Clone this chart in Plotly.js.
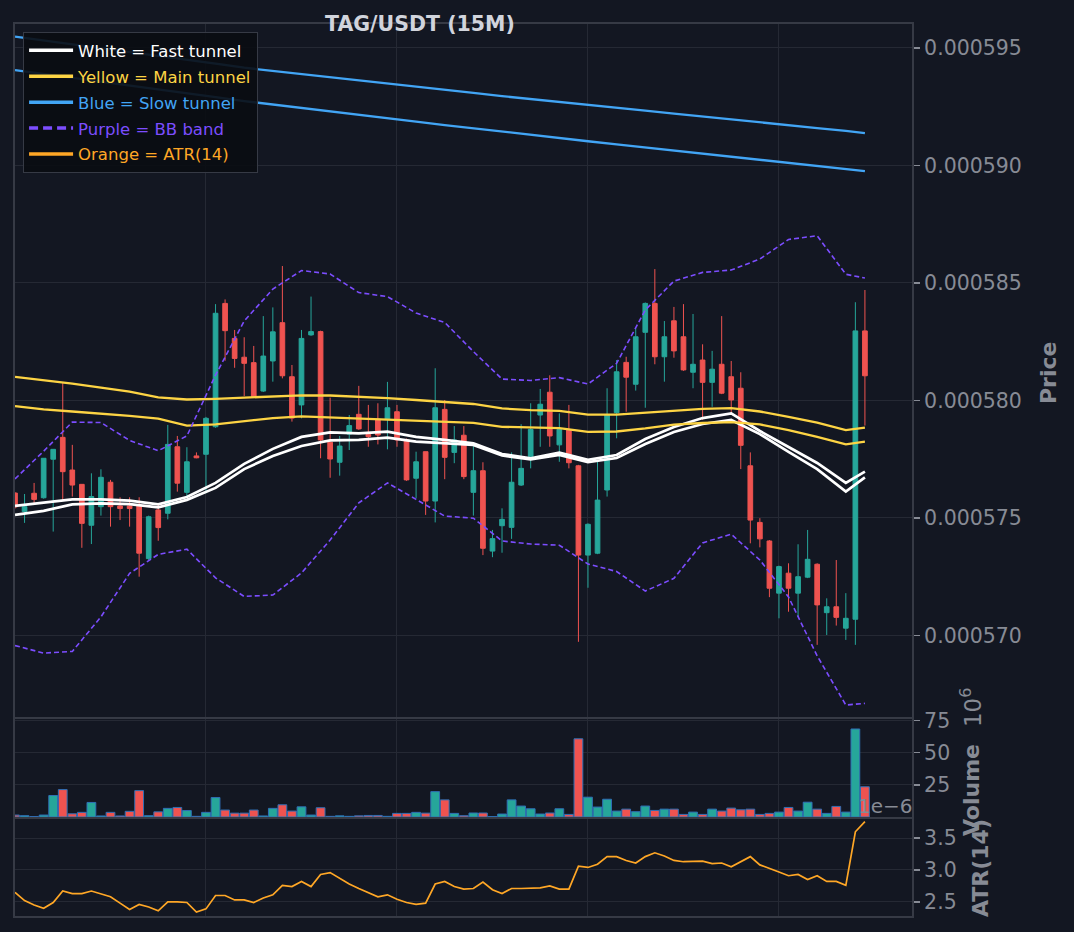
<!DOCTYPE html>
<html>
<head>
<meta charset="utf-8">
<script src="https://cdn.plot.ly/plotly-3.0.1.min.js"></script>
<style>
  html, body { margin: 0; padding: 0; background: #131722; }
  #chart { width: 1074px; height: 932px; }
</style>
</head>
<body>
<div id="chart"></div>
<script>
// price values are in units of 1e-6 USDT, volume in millions, ATR in 1e-6
var openP = [576.06, 575.27, 576.05, 575.86, 577.50, 578.43, 577.04, 576.43, 574.69, 575.48,
  576.52, 575.51, 575.51, 575.51, 573.27, 575.34, 575.20, 578.03, 576.09, 577.64,
  577.71, 578.88, 584.13, 582.64, 581.84, 581.61, 580.40, 581.68, 583.31, 581.01,
  579.81, 582.79, 582.93, 578.22, 577.37, 578.57, 579.41, 578.56, 579.20, 579.20,
  579.52, 578.32, 576.69, 577.82, 575.72, 579.62, 577.79, 578.52, 576.09, 577.01,
  573.59, 574.67, 574.60, 576.40, 577.61, 579.38, 580.35, 578.11, 578.74, 577.22,
  573.42, 573.50, 576.19, 579.48, 581.62, 580.69, 582.90, 584.13, 581.86, 583.39,
  582.71, 581.20, 581.72, 580.77, 581.54, 581.01, 580.52, 577.22, 574.81, 574.02,
  571.80, 572.65, 571.80, 572.48, 573.03, 570.97, 571.22, 570.31, 570.69, 582.96];
var closeP = [575.47, 575.48, 575.79, 577.54, 577.92, 576.97, 576.40, 574.77, 575.91, 576.73,
  575.48, 575.40, 575.40, 573.50, 575.05, 574.59, 578.13, 576.48, 577.39, 577.56,
  579.24, 583.71, 582.97, 581.79, 581.58, 580.16, 581.89, 582.92, 581.05, 579.25,
  582.64, 582.93, 578.32, 577.51, 578.06, 578.93, 578.79, 578.46, 578.53, 579.69,
  578.32, 576.62, 577.39, 575.72, 579.69, 577.58, 578.32, 576.76, 577.01, 573.71,
  574.12, 574.94, 576.52, 577.11, 578.77, 579.84, 578.49, 578.77, 577.35, 573.42,
  574.73, 575.76, 579.38, 581.22, 580.99, 582.71, 584.13, 581.86, 582.71, 582.11,
  581.30, 581.54, 580.77, 581.33, 580.31, 580.02, 578.09, 574.91, 574.11, 572.01,
  572.93, 572.01, 572.50, 573.24, 571.30, 571.22, 570.77, 570.73, 582.96, 581.05];
var highP = [576.10, 576.02, 576.49, 577.54, 577.92, 580.74, 578.11, 576.43, 576.90, 577.07,
  576.62, 575.88, 575.88, 575.88, 575.10, 575.55, 578.96, 578.49, 578.01, 577.79,
  579.30, 584.10, 584.30, 583.00, 582.69, 582.32, 583.59, 583.96, 585.72, 581.51,
  583.00, 584.42, 582.97, 580.12, 578.49, 579.38, 580.62, 579.81, 579.88, 580.79,
  579.81, 578.38, 577.82, 577.82, 581.37, 580.02, 578.91, 578.91, 578.08, 577.37,
  574.49, 575.41, 577.79, 578.99, 579.88, 580.49, 581.07, 579.45, 579.81, 577.26,
  574.77, 577.47, 580.52, 581.72, 581.86, 583.07, 584.17, 585.59, 583.38, 583.98,
  584.10, 583.68, 582.39, 582.11, 583.59, 581.68, 581.20, 577.79, 574.99, 574.06,
  572.97, 573.07, 573.88, 574.49, 573.07, 571.58, 573.21, 571.80, 584.18, 584.70];
var lowP = [575.40, 574.79, 575.55, 575.82, 574.42, 575.76, 575.91, 573.73, 573.89, 575.10,
  574.63, 574.91, 574.63, 572.50, 573.20, 574.03, 574.94, 576.12, 575.84, 577.54,
  576.05, 578.84, 581.69, 581.39, 580.19, 580.12, 580.36, 580.80, 580.94, 579.10,
  579.24, 582.75, 577.54, 576.71, 576.80, 577.89, 578.75, 578.03, 578.13, 577.92,
  578.03, 576.58, 575.84, 575.13, 574.81, 576.65, 577.33, 576.65, 575.10, 573.42,
  573.33, 573.52, 574.11, 576.36, 577.11, 578.03, 578.03, 577.39, 577.11, 569.73,
  572.03, 573.46, 575.91, 578.39, 579.52, 580.42, 579.69, 581.54, 580.80, 581.82,
  581.26, 580.52, 579.17, 579.73, 580.27, 579.45, 577.08, 573.92, 573.75, 571.63,
  570.73, 571.01, 570.80, 572.44, 569.60, 570.02, 570.42, 569.81, 569.60, 578.93];

var volM = [1.5, 1.0, 0.3, 1.5, 16.7, 21.3, 2.5, 3.6, 11.3, 0.8,
  3.6, 0.8, 4.4, 20.5, 1.0, 4.0, 6.7, 7.4, 5.0, 0.5,
  3.6, 15.1, 5.4, 3.0, 3.0, 5.4, 0.8, 6.7, 9.5, 4.6,
  7.9, 1.5, 7.2, 0.5, 0.9, 0.5, 0.9, 1.2, 1.2, 0.5,
  2.8, 2.8, 3.6, 3.0, 19.7, 13.3, 2.8, 1.0, 3.1, 3.1,
  0.3, 2.3, 13.3, 8.5, 6.4, 2.3, 3.1, 6.4, 2.0, 60.8,
  15.4, 7.7, 13.8, 4.6, 6.1, 4.1, 8.5, 5.1, 6.1, 6.1,
  2.0, 3.8, 2.0, 6.1, 4.6, 6.9, 5.6, 6.1, 2.0, 2.8,
  3.8, 7.4, 4.6, 11.5, 6.1, 2.8, 8.2, 3.8, 68.4, 23.5];

var atr = [2.65, 2.52, 2.45, 2.40, 2.49, 2.67, 2.63, 2.63, 2.67, 2.62,
  2.58, 2.48, 2.38, 2.46, 2.42, 2.36, 2.50, 2.50, 2.49, 2.34,
  2.39, 2.60, 2.60, 2.53, 2.53, 2.49, 2.56, 2.61, 2.76, 2.74,
  2.82, 2.74, 2.93, 2.96, 2.87, 2.78, 2.71, 2.64, 2.58, 2.61,
  2.54, 2.49, 2.46, 2.48, 2.78, 2.82, 2.74, 2.70, 2.71, 2.81,
  2.69, 2.63, 2.71, 2.71, 2.71, 2.72, 2.75, 2.70, 2.70, 3.06,
  3.04, 3.09, 3.21, 3.21, 3.15, 3.11, 3.21, 3.27, 3.22, 3.15,
  3.13, 3.13, 3.14, 3.10, 3.11, 3.05, 3.13, 3.21, 3.08, 3.03,
  2.97, 2.91, 2.93, 2.85, 2.91, 2.82, 2.82, 2.76, 3.60, 3.76];

// overlay lines, read every third bar
var lineIdx = [0, 3, 6, 9, 12, 15, 18, 21, 24, 27, 30, 33, 36, 39, 42, 45,
  48, 51, 54, 57, 60, 63, 66, 69, 72, 75, 78, 81, 84, 87, 89];
var fastHi = [575.51, 575.66, 575.79, 575.79, 575.74, 575.58, 575.89, 576.49, 577.30, 577.94,
  578.45, 578.64, 578.60, 578.67, 578.45, 578.32, 578.18, 577.72, 577.54, 577.78,
  577.47, 577.68, 578.36, 578.87, 579.25, 579.45, 578.70, 578.02, 577.34, 576.49, 576.97];
var fastLo = [575.13, 575.30, 575.58, 575.62, 575.59, 575.45, 575.77, 576.28, 577.08, 577.64,
  578.06, 578.30, 578.32, 578.42, 578.25, 578.19, 578.11, 577.66, 577.49, 577.68,
  577.38, 577.55, 578.15, 578.66, 579.00, 579.17, 578.57, 577.81, 577.08, 576.12, 576.73];
var mainHi = [581.00, 580.87, 580.72, 580.55, 580.38, 580.13, 580.04, 580.07, 580.13, 580.17,
  580.22, 580.21, 580.17, 580.10, 580.02, 579.93, 579.85, 579.66, 579.59, 579.56,
  579.40, 579.40, 579.47, 579.57, 579.64, 579.67, 579.53, 579.30, 579.06, 578.74, 578.84];
var mainLo = [579.76, 579.62, 579.53, 579.45, 579.34, 579.23, 578.93, 578.98, 579.13, 579.25,
  579.32, 579.28, 579.23, 579.20, 579.15, 579.11, 579.05, 578.88, 578.85, 578.82,
  578.66, 578.68, 578.81, 578.97, 579.04, 579.08, 578.98, 578.74, 578.45, 578.13, 578.25];
var slowHi = [595.48, 595.32, 595.15, 594.99, 594.82, 594.66, 594.50, 594.33, 594.16, 594.03,
  593.89, 593.76, 593.62, 593.49, 593.36, 593.22, 593.09, 592.95, 592.82, 592.70,
  592.58, 592.45, 592.33, 592.21, 592.08, 591.96, 591.84, 591.71, 591.59, 591.47, 591.38];
var slowLo = [594.06, 593.90, 593.73, 593.57, 593.40, 593.24, 593.07, 592.91, 592.74, 592.60,
  592.45, 592.31, 592.16, 592.01, 591.87, 591.72, 591.58, 591.43, 591.28, 591.16,
  591.03, 590.90, 590.77, 590.64, 590.51, 590.38, 590.25, 590.12, 589.99, 589.86, 589.76];
var bbUp = [576.66, 577.84, 579.08, 579.06, 578.30, 577.86, 578.49, 581.08, 583.38, 584.74,
  585.53, 585.38, 584.59, 584.42, 583.72, 583.32, 582.08, 580.91, 580.85, 580.97,
  580.70, 581.58, 583.85, 585.08, 585.45, 585.55, 586.02, 586.85, 587.01, 585.37, 585.21];
var bbLo = [569.57, 569.25, 569.32, 570.79, 572.64, 573.45, 573.67, 572.45, 571.66, 571.72,
  572.66, 574.06, 575.64, 576.49, 575.79, 575.08, 574.99, 574.02, 573.89, 573.84,
  573.04, 572.72, 571.89, 572.43, 573.94, 574.31, 573.21, 571.64, 569.13, 567.04, 567.11];

var priceTicks = [570, 575, 580, 585, 590, 595];

var UP = '#26a69a', DOWN = '#ef5350';
var BG = '#131722', FRAME = '#363a45', GRID = '#252934', TXT = '#878b95';
var FONT = 'DejaVu Sans, sans-serif';
var WHITE = '#ffffff', YELLOW = '#fdd444', BLUE = '#42a5f5', PURPLE = '#7c4dff', ORANGE = '#ffa726';

var bars = openP.map(function (o, i) { return i; });
var scale = function (arr) { return arr.map(function (v) { return v * 1e-6; }); };
var volColors = closeP.map(function (c, i) { return c >= openP[i] ? UP : DOWN; });

function line(x, y, color, width, dash) {
  return {type: 'scatter', mode: 'lines', x: x, y: y, showlegend: false, hoverinfo: 'skip',
    line: {color: color, width: width, dash: dash || 'solid'}};
}
// legend handles only (thicker than the plotted lines, as in the original)
function key(text, color, dash) {
  return {type: 'scatter', mode: 'lines', x: [null], y: [null], hoverinfo: 'skip',
    name: '<span style="color:' + color + '">' + text + '</span>', legendgroup: text,
    line: {color: color, width: 3.5, dash: dash || 'solid'}};
}

var traces = [
  {
    type: 'candlestick', x: bars,
    open: scale(openP), high: scale(highP), low: scale(lowP), close: scale(closeP),
    increasing: {line: {color: UP, width: 1}, fillcolor: UP},
    decreasing: {line: {color: DOWN, width: 1}, fillcolor: DOWN},
    whiskerwidth: 0, showlegend: false, hoverinfo: 'skip'
  },
  line(lineIdx, scale(fastHi), WHITE, 2.7),
  line(lineIdx, scale(fastLo), WHITE, 2.7),
  line(lineIdx, scale(mainHi), YELLOW, 2.3),
  line(lineIdx, scale(mainLo), YELLOW, 2.3),
  line(lineIdx, scale(slowHi), BLUE, 2.3),
  line(lineIdx, scale(slowLo), BLUE, 2.3),
  line(lineIdx, scale(bbUp), PURPLE, 1.6, '5px,3px'),
  line(lineIdx, scale(bbLo), PURPLE, 1.6, '5px,3px'),
  {type: 'bar', x: bars, y: volM, xaxis: 'x2', yaxis: 'y2', width: 0.92, showlegend: false,
    marker: {color: volColors, line: {color: '#2f6fb5', width: 1}}, hoverinfo: 'skip'},
  Object.assign(line(bars, atr, ORANGE, 1.7), {xaxis: 'x3', yaxis: 'y3'}),
  key('White = Fast tunnel', WHITE),
  key('Yellow = Main tunnel', YELLOW),
  key('Blue = Slow tunnel', BLUE),
  key('Purple = BB band', PURPLE, '9px,5px'),
  key('Orange = ATR(14)', ORANGE)
];

var xBase = {
  range: [0, 93.93], showticklabels: false, ticks: '', tickvals: [20, 40, 60, 80],
  showgrid: true, gridcolor: GRID, gridwidth: 1, zeroline: false,
  showline: true, mirror: true, linecolor: FRAME, linewidth: 2, fixedrange: true
};
function xa(anchor) {
  var o = Object.assign({}, xBase);
  o.anchor = anchor;
  o.rangeslider = {visible: false};
  return o;
}
function ya(domain, range, extra) {
  var o = {
    domain: domain, range: range, side: 'right', ticks: 'outside', ticklen: 6,
    tickwidth: 1.5, tickcolor: TXT, tickfont: {family: FONT, size: 20.5, color: TXT},
    showgrid: true, gridcolor: GRID, gridwidth: 1, zeroline: false,
    showline: true, mirror: true, linecolor: FRAME, linewidth: 2, fixedrange: true
  };
  return Object.assign(o, extra);
}
function sideLabel(x, y, text, size, bold) {
  return {xref: 'paper', yref: 'paper', x: x, y: y, text: text, textangle: -90, showarrow: false,
    xanchor: 'center', yanchor: 'middle',
    font: {family: FONT, size: size, color: TXT, weight: bold ? 'bold' : 'normal'}};
}

var layout = {
  width: 1074, height: 932,
  paper_bgcolor: BG, plot_bgcolor: BG,
  margin: {l: 15, r: 162, t: 24, b: 16},
  font: {family: FONT, color: TXT},
  title: {
    text: 'TAG/USDT (15M)', x: 0.391, xanchor: 'center', y: 0.974, yanchor: 'middle',
    font: {family: FONT, size: 20.5, color: '#d1d4dc', weight: 'bold'}
  },
  showlegend: true,
  legend: {
    x: 0.009, y: 0.991, xanchor: 'left', yanchor: 'top',
    bgcolor: 'rgba(10,12,18,0.9)', bordercolor: FRAME, borderwidth: 1,
    font: {family: FONT, size: 16.5, color: WHITE},
    tracegroupgap: 1.5, itemwidth: 44
  },
  xaxis: xa('y'),
  xaxis2: Object.assign(xa('y2'), {matches: 'x'}),
  xaxis3: Object.assign(xa('y3'), {matches: 'x'}),
  yaxis: ya([0.2231, 1], [566.53e-6, 596.02e-6], {
    tickvals: scale(priceTicks), tickformat: '.6f'
  }),
  yaxis2: ya([0.1110, 0.2209], [0, 76.2], {tickvals: [25, 50, 75]}),
  yaxis3: ya([0, 0.1087], [2.278, 3.80], {tickvals: [2.5, 3.0, 3.5], tickformat: '.1f'}),
  annotations: [
    sideLabel(1.1516, 0.6087, 'Price', 22, true),
    sideLabel(1.0669, 0.1413, 'Volume', 22, true),
    sideLabel(1.0758, 0.0538, 'ATR(14)', 22, true),
    sideLabel(1.0658, 0.2343, '10<sup>6</sup>', 23, false),
    {xref: 'paper', yref: 'paper', x: 0.971, y: 0.1233, text: '1e\u22126', showarrow: false,
      xanchor: 'center', yanchor: 'middle', font: {family: FONT, size: 20, color: TXT}}
  ]
};

Plotly.newPlot('chart', traces, layout, {staticPlot: true});
</script>
</body>
</html>
